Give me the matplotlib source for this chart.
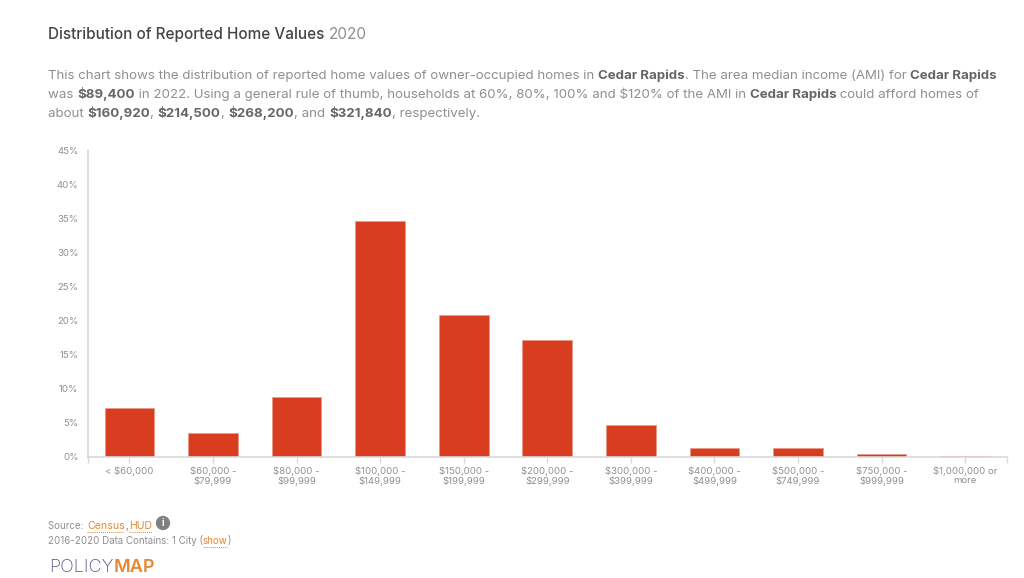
#! /usr/bin/env python
# distribution of reported home values, Cedar Rapids
import numpy as np
import matplotlib
matplotlib.use('agg')
import matplotlib.pyplot as plt

plt.rc('font', family='Inter')

W, H = 1024, 578
labels = ['< $60,000', '$60,000 -\n$79,999', '$80,000 -\n$99,999',
          '$100,000 -\n$149,999', '$150,000 -\n$199,999', '$200,000 -\n$299,999',
          '$300,000 -\n$399,999', '$400,000 -\n$499,999', '$500,000 -\n$749,999',
          '$750,000 -\n$999,999', '$1,000,000 or\nmore']
values = [7.2, 3.5, 8.8, 34.6, 20.8, 17.2, 4.7, 1.3, 1.3, 0.4, 0.1]

grey = '#8f8f8f'
dark = '#666666'
orange = '#e8872d'
axis_col = '#d9d9d9'

fig = plt.figure(figsize=(W / 100, H / 100), dpi=100)
ax = fig.add_axes([87.6 / W, 1 - 457 / H, (1007 - 87.6) / W, (457 - 150.5) / H])

x = np.arange(len(values))
ax.bar(x, values, width=0.595, color='#d83d20', edgecolor='#eb9a88', linewidth=0.6)
ax.set_xlim(-0.5, 10.5)
ax.set_ylim(0, 45)

ax.set_xticks(x)
ax.set_xticklabels(labels, linespacing=1.0)
ax.set_yticks(np.arange(0, 50, 5))
ax.set_yticklabels(['{}%'.format(v) for v in np.arange(0, 50, 5)])
ax.set_xticks([-0.5, 10.5], minor=True)
ax.set_yticks([0, 45], minor=True)
ax.tick_params(axis='x', which='major', length=4, width=1, color=axis_col,
               labelsize=6.9, labelcolor=grey, pad=3)
ax.tick_params(axis='x', which='minor', length=4, width=1, color=axis_col)
ax.tick_params(axis='y', which='major', length=0, labelsize=6.9, labelcolor=grey, pad=6.5)
ax.tick_params(axis='y', which='minor', length=3.6, width=1, color=axis_col)
for side in ['top', 'right']:
    ax.spines[side].set_visible(False)
for side in ['left', 'bottom']:
    ax.spines[side].set_color(axis_col)
    ax.spines[side].set_linewidth(1.2)


def text_w(s, weight, size, renderer):
    # nbsp so that leading and trailing spaces get measured
    t = fig.text(0, 0, s.replace(' ', '\u00a0'), fontsize=size, fontweight=weight)
    w = t.get_window_extent(renderer).width
    t.remove()
    return w


def runs(x0, y0, parts, size):
    # lay out mixed weight text left to right, pixel coords from top left
    renderer = fig.canvas.get_renderer()
    px = x0
    for s, weight, col in parts:
        fig.text(px / W, 1 - y0 / H, s, fontsize=size, fontweight=weight,
                 color=col, va='baseline', ha='left')
        px += text_w(s, weight, size, renderer)
    return px


def dotted(x0, x1, y, col):
    fig.add_artist(plt.Line2D([x0 / W, x1 / W], [1 - y / H, 1 - y / H], color=col,
                              linewidth=0.7, linestyle=(0, (1, 1))))


N = 'normal'
B = 'bold'
runs(48, 39, [('Distribution of Reported Home Values ', 'medium', '#444444'),
              ('2020', N, grey)], 11.0)
body = 9.55
runs(48, 79, [('This chart shows the distribution of reported home values of owner-occupied homes in ', N, grey),
              ('Cedar Rapids', B, dark), ('. The area median income (AMI) for ', N, grey),
              ('Cedar Rapids', B, dark)], body)
runs(48, 98, [('was ', N, grey), ('$89,400', B, dark),
              (' in 2022. Using a general rule of thumb, households at 60%, 80%, 100% and $120% of the AMI in ', N, grey),
              ('Cedar Rapids', B, dark), (' could afford homes of', N, grey)], body)
runs(48, 117, [('about ', N, grey), ('$160,920', B, dark), (', ', N, grey), ('$214,500', B, dark),
               (', ', N, grey), ('$268,200', B, dark), (', and ', N, grey), ('$321,840', B, dark),
               (', respectively.', N, grey)], body)

# source block
runs(48, 529, [('Source: ', N, grey)], 7.0)
runs(87, 529, [('Census', N, orange), (',', N, grey)], 7.6)
runs(129, 529, [('HUD', N, orange)], 7.6)
dotted(87, 124, 531.5, orange)
dotted(129, 152, 531.5, orange)
fig.text(163 / W, 1 - 523 / H, 'i', fontsize=7, fontweight='bold', color='white', ha='center', va='center',
         bbox=dict(boxstyle='circle,pad=0.22', facecolor='#808080', edgecolor='none'))
runs(48, 544, [('2016-2020 Data Contains: 1 City (', N, grey), ('show', N, orange), (')', N, grey)], 7.0)
dotted(203, 227, 546.5, orange)

# logo
runs(49, 572, [('POLICY', 'light', '#5f4f85'), ('MAP', 'semibold', orange)], 13.0)

fig.savefig('out.png', dpi=100)
